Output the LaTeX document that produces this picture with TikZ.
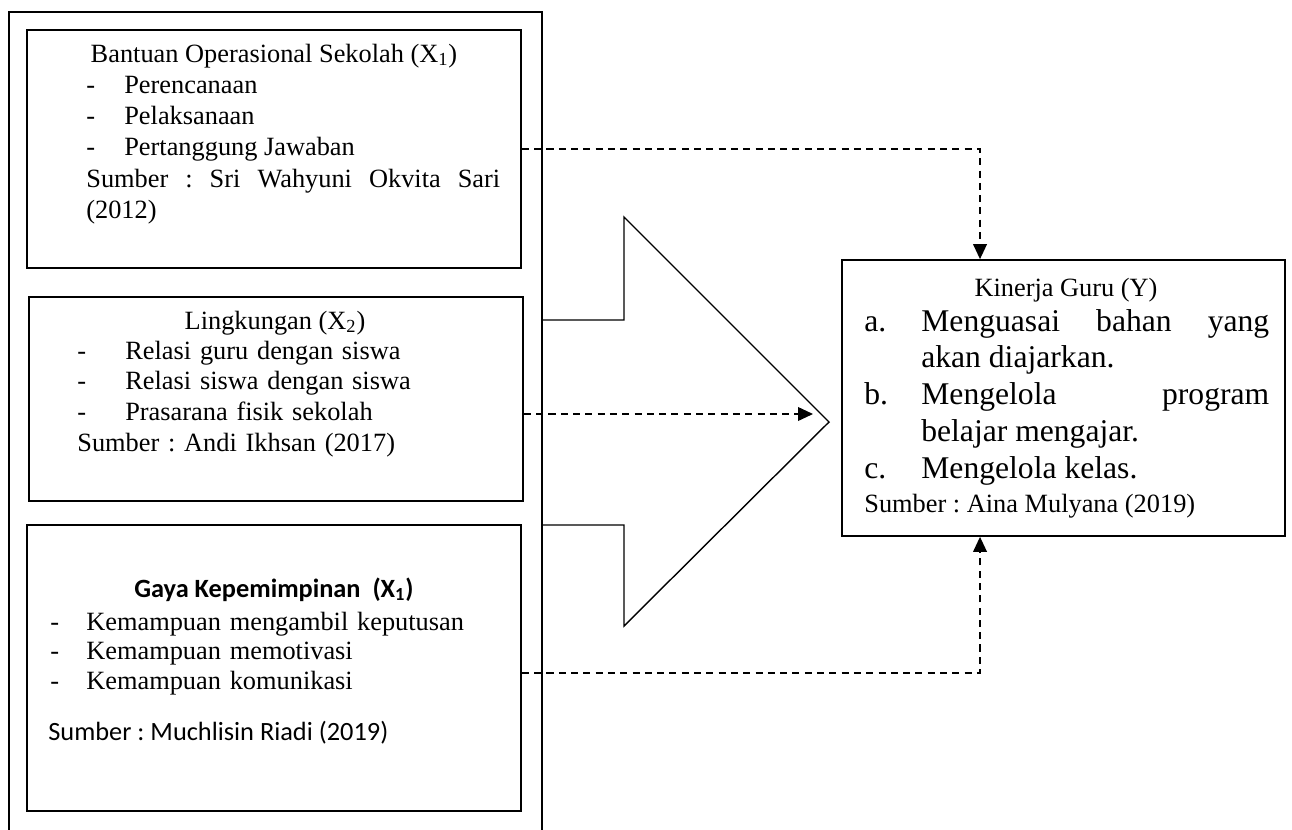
\documentclass[tikz,border=0pt]{standalone}
\usepackage{fontspec}
\setmainfont{Liberation Serif}
\newfontfamily\calibri{Carlito}
\usetikzlibrary{arrows.meta,fit,positioning}
\setlength{\parindent}{0pt}
\frenchspacing
\newcommand\itemdash[1]{\makebox[#1][l]{-}}
\newcommand\kitem[1]{\hangindent=1.14cm\hangafter=1\makebox[1.14cm][l]{#1}}

\begin{document}
\begin{tikzpicture}[x=0.02cm, y=-0.02cm,
        box/.style={draw, line width=1pt, inner sep=0pt},
        txt/.style={inner sep=0pt, font=\fontsize{15}{17.6}\selectfont},
        link/.style={line width=0.75pt, dash pattern=on 4pt off 3pt,
                -{Triangle[length=8.5pt, width=7.8pt]}}]
        \useasboundingbox (0,0) rectangle (1292,829);
        % frame round the three variables, open at the bottom
        \draw[line width=1pt] (9,832) -- (9,12) -- (542,12) -- (542,832);
        \draw[line width=0.8pt, line join=miter] (542,320) -- (624,320) -- (624,217)
                -- (829,422) -- (624,626) -- (624,525) -- (542,525);

        \node[box, fit={(27,30) (521,268)}] (box1) {};
        \node[box, fit={(29,297) (523,501)}] (box2) {};
        \node[box, fit={(27,525) (521,811)}] (box3) {};
        \node[box, fit={(842,260) (1285,536)}] (kin) {};

        \node[txt, anchor=base] (head1) at (274,62) {Bantuan Operasional Sekolah (X\textsubscript{1})};
        \node[txt, anchor=base west, text width=8.28cm, align=justify,
                font=\fontsize{15}{17.9}\selectfont] (body1) at (86,93)
                {\itemdash{0.76cm}Perencanaan\par
                 \itemdash{0.76cm}Pelaksanaan\par
                 \itemdash{0.76cm}Pertanggung Jawaban\par
                 Sumber : Sri Wahyuni Okvita Sari\linebreak (2012)\par};

        \node[txt, anchor=base] (head2) at (275,329) {Lingkungan (X\textsubscript{2})};
        \node[txt, anchor=base west, text width=8.46cm, align=left] (body2) at (77,359)
                {\itemdash{0.96cm}Relasi guru dengan siswa\\
                 \itemdash{0.96cm}Relasi siswa dengan siswa\\
                 \itemdash{0.96cm}Prasarana fisik sekolah\\
                 Sumber : Andi Ikhsan (2017)};

        \node[txt, anchor=base, font=\fontsize{15}{17}\calibri\bfseries] (head3) at (274,597)
                {Gaya Kepemimpinan\ \ (X\textsubscript{1})};
        \node[txt, anchor=base west, text width=9cm, align=left,
                font=\fontsize{15}{17}\selectfont] (body3) at (50,630)
                {\itemdash{0.72cm}Kemampuan mengambil keputusan\\
                 \itemdash{0.72cm}Kemampuan memotivasi\\
                 \itemdash{0.72cm}Kemampuan komunikasi};
        \node[txt, anchor=base west, font=\fontsize{15}{17}\calibri] (src3) at (48,740)
                {Sumber : Muchlisin Riadi (2019)};

        \node[txt, anchor=base] (headk) at (1066,296) {Kinerja Guru (Y)};
        \node[txt, anchor=base west, text width=8.1cm, align=justify,
                font=\fontsize{18}{21}\selectfont] (bodyk) at (864,331)
                {\kitem{a.}Menguasai bahan yang\linebreak akan diajarkan.\par
                 \kitem{b.}Mengelola program\linebreak belajar mengajar.\par
                 \kitem{c.}Mengelola kelas.\par
                 {\fontsize{15}{19.3}\selectfont Sumber : Aina Mulyana (2019)\par}};

        \coordinate (tip2) at (813,414);
        \draw[link] (box1.east) -| ([xshift=-1.67cm]kin.north);
        \draw[link] (box2.east |- tip2) -- (tip2);
        \draw[link] ([yshift=-0.1cm]box3.east) -| ([xshift=-1.67cm]kin.south);
\end{tikzpicture}
\end{document}
